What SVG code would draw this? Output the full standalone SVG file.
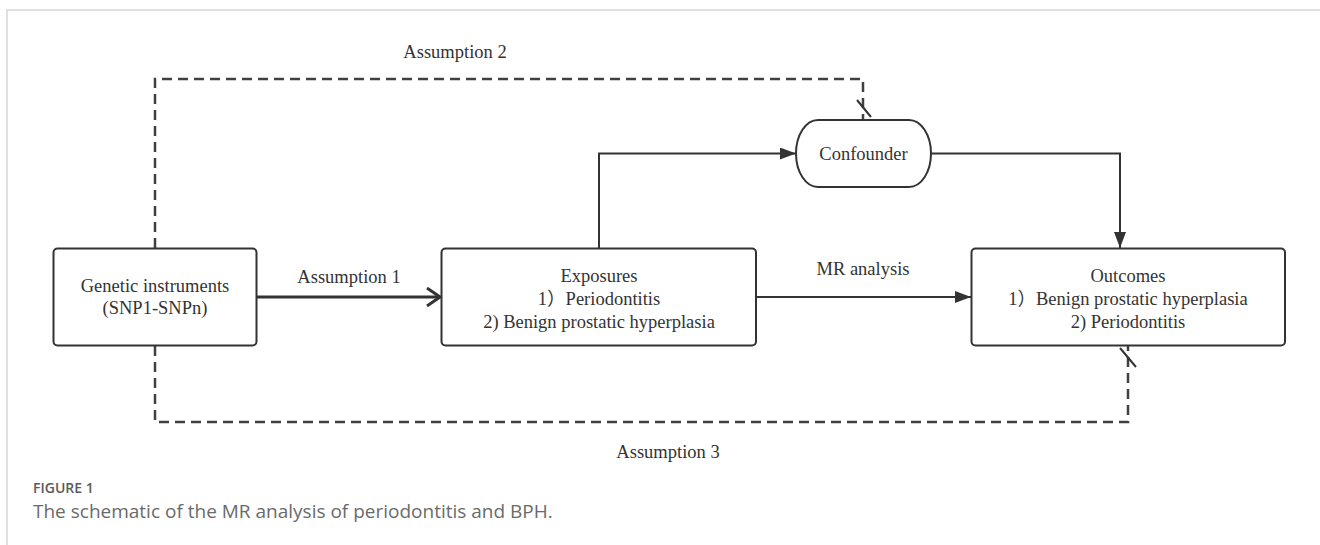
<svg xmlns="http://www.w3.org/2000/svg" width="1320" height="545" viewBox="0 0 1320 545">
<style>
.frame{fill:none;stroke:#d6d6d6;stroke-width:1.5}
.box{fill:#fff;stroke:#333;stroke-width:2}
.t{font-family:"Liberation Serif","Times New Roman","Noto Sans CJK SC",serif;font-size:18.5px;fill:#333;text-anchor:middle}
.conn{fill:none;stroke:#333;stroke-width:2}
.thick{fill:none;stroke:#333;stroke-width:3}
.dash{fill:none;stroke:#404040;stroke-width:2.5;stroke-dasharray:10 6}
.tick{stroke:#333;stroke-width:2}
.figl{font-family:"Open Sans","Liberation Sans",sans-serif;font-size:14px;font-weight:600;fill:#5a5a5a}
.cap{font-family:"Open Sans","Liberation Sans",sans-serif;font-size:19px;fill:#6a6a6a}
</style>
<defs>
<marker id="fill" viewBox="0 0 16 12" refX="16" refY="6" markerWidth="16" markerHeight="12" markerUnits="userSpaceOnUse" orient="auto">
<path d="M0,0 L16,6 L0,12 Z" fill="#333"/>
</marker>
<marker id="open" viewBox="0 0 16 20" refX="14" refY="10" markerWidth="16" markerHeight="20" markerUnits="userSpaceOnUse" orient="auto">
<path d="M1,1 L14,10 L1,19" fill="none" stroke="#333" stroke-width="3"/>
</marker>
</defs>
<path class="frame" d="M7,545 V10 H1320"/>
<g id="connectors">
<path class="dash" d="M155,248 V79 H863 V120"/>
<path class="dash" d="M155,346 V422 H1128 V346"/>
<line class="tick" x1="857" y1="100" x2="871" y2="117"/>
<line class="tick" x1="1120" y1="348" x2="1136" y2="367"/>
<path class="thick" d="M257,297 H440" marker-end="url(#open)"/>
<path class="conn" d="M599,248 V153.5 H796" marker-end="url(#fill)"/>
<path class="conn" d="M931,153.5 H1120 V248" marker-end="url(#fill)"/>
<path class="conn" d="M756,297 H971" marker-end="url(#fill)"/>
<text class="t" x="349" y="283">Assumption 1</text>
<text class="t" x="455" y="58">Assumption 2</text>
<text class="t" x="668" y="458">Assumption 3</text>
<text class="t" x="863" y="275">MR analysis</text>
</g>
<g id="genetic">
<rect class="box" x="53.5" y="248.5" width="203" height="97" rx="4"/>
<text class="t" x="155" y="292">Genetic instruments</text>
<text class="t" x="155" y="313.5">(SNP1-SNPn)</text>
</g>
<g id="exposures">
<rect class="box" x="441.5" y="248.5" width="314.5" height="97" rx="4"/>
<text class="t" x="599" y="281.5">Exposures</text>
<text class="t" x="599" y="305">1）Periodontitis</text>
<text class="t" x="599" y="328">2) Benign prostatic hyperplasia</text>
</g>
<g id="outcomes">
<rect class="box" x="971.5" y="248.5" width="313.5" height="97" rx="4"/>
<text class="t" x="1128" y="281.5">Outcomes</text>
<text class="t" x="1128" y="305">1）Benign prostatic hyperplasia</text>
<text class="t" x="1128" y="328">2) Periodontitis</text>
</g>
<g id="confounder">
<rect class="box" x="796" y="120" width="135" height="67" rx="22" ry="33.5"/>
<text class="t" x="863.5" y="160">Confounder</text>
</g>
<g id="caption">
<text class="figl" x="33" y="493">FIGURE 1</text>
<text class="cap" x="33" y="518">The schematic of the MR analysis of periodontitis and BPH.</text>
</g>
</svg>
